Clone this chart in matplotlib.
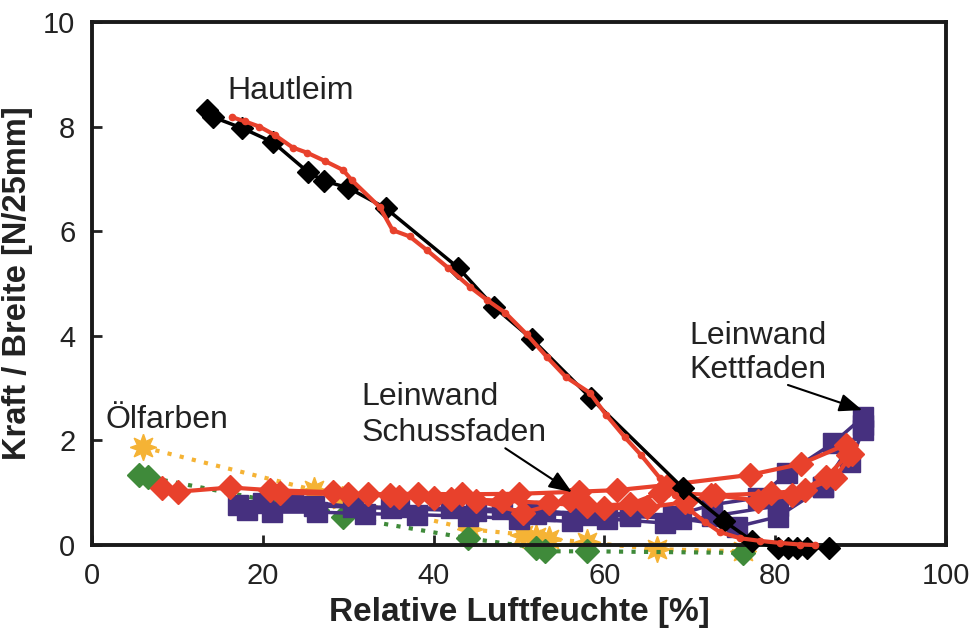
import matplotlib.pyplot as plt

plt.rcParams['font.family'] = ['Liberation Sans', 'DejaVu Sans']

# Hautleim (black diamonds)
haut_x = [13.5, 14.2, 17.6, 21.2, 25.3, 27.2, 30.0, 34.4, 42.9, 47.1, 51.5, 58.4,
          69.2, 74.0, 77.3, 80.3, 81.5, 82.6, 83.7, 86.3]
haut_y = [8.32, 8.18, 7.97, 7.70, 7.13, 6.96, 6.83, 6.44, 5.30, 4.55, 3.94, 2.81,
          1.09, 0.46, 0.08, -0.06, -0.05, -0.06, -0.05, -0.06]

# Hautleim (red line, small dots)
haut2_x = [16.4, 17.9, 19.6, 21.4, 23.5, 25.2, 27.3, 29.4, 30.4, 33.7, 35.2, 37.2,
           39.2, 41.7, 44.3, 46.3, 48.4, 50.9, 53.3, 55.5, 58.3, 60.2, 62.4, 64.3,
           66.5, 68.3, 70.0, 71.8, 73.5, 75.9, 78.2, 80.6, 82.9, 84.7]
haut2_y = [8.18, 8.10, 8.00, 7.84, 7.60, 7.50, 7.34, 7.17, 6.98, 6.46, 6.02, 5.90,
           5.64, 5.30, 4.93, 4.68, 4.44, 4.03, 3.59, 3.21, 2.91, 2.49, 2.06, 1.72,
           1.28, 0.96, 0.67, 0.44, 0.25, 0.13, 0.08, 0.04, 0.01, 0.0]

# Oelfarben
yel_x = [6.0, 26.0, 29.3, 44.3, 50.5, 52.0, 53.5, 58.0, 66.2, 76.2]
yel_y = [1.87, 1.05, 0.88, 0.30, 0.20, 0.16, 0.12, 0.05, -0.08, -0.12]
grn_x = [5.5, 6.5, 26.3, 29.4, 44.0, 52.0, 53.0, 58.0, 76.2]
grn_y = [1.34, 1.30, 0.67, 0.54, 0.13, -0.05, -0.12, -0.12, -0.15]

# Leinwand Schussfaden (red diamonds)
sch1_x = [8.2, 10.1, 16.2, 20.8, 28.2, 32.3, 38.2, 43.3, 50.0, 57.0, 61.5, 67.5, 77.0, 83.0, 88.3]
sch1_y = [1.09, 1.02, 1.10, 1.05, 1.01, 0.97, 0.98, 0.97, 0.98, 1.02, 1.05, 1.15, 1.34, 1.55, 1.92]
sch2_x = [22.0, 30.0, 34.9, 40.0, 45.0, 50.5, 56.0, 60.0, 65.0, 69.5, 73.0, 79.5, 83.5, 87.0, 89.0]
sch2_y = [1.00, 0.97, 0.95, 0.90, 0.85, 0.62, 0.86, 0.70, 0.72, 0.82, 0.95, 0.99, 1.05, 1.28, 1.75]
sch3_x = [36.0, 42.0, 48.0, 53.5, 58.0, 63.0, 66.5, 72.5, 78.0, 82.0, 86.0, 88.5]
sch3_y = [0.92, 0.88, 0.85, 0.80, 0.75, 0.78, 1.00, 0.96, 0.85, 0.95, 1.30, 1.72]

# Leinwand Kettfaden (purple squares)
ket1_x = [17.1, 21.1, 26.3, 32.0, 38.0, 44.0, 50.0, 56.2, 60.3, 67.1, 72.6, 80.3, 85.6, 90.3]
ket1_y = [0.77, 0.63, 0.63, 0.60, 0.58, 0.55, 0.50, 0.45, 0.50, 0.42, 0.55, 0.75, 1.10, 2.30]
ket2_x = [18.1, 23.5, 30.6, 36.0, 42.0, 48.0, 53.0, 57.0, 63.0, 68.0, 72.6, 78.0, 81.4, 86.8, 90.3]
ket2_y = [0.67, 0.86, 0.73, 0.72, 0.70, 0.68, 0.65, 0.60, 0.60, 0.55, 0.77, 0.90, 1.37, 1.95, 2.45]
ket3_x = [20.0, 26.0, 35.0, 45.0, 52.0, 58.0, 63.0, 69.0, 75.5, 80.3, 85.6, 88.8, 90.3]
ket3_y = [0.80, 0.75, 0.70, 0.65, 0.60, 0.58, 0.55, 0.50, 0.35, 0.54, 1.10, 1.59, 2.20]

red = '#E8412C'
purple = '#46307F'
yellow = '#F5B335'
green = '#3F8A3A'

fig = plt.figure(figsize=(9.77, 6.29), dpi=100)
ax = fig.add_axes([0.0942, 0.1335, 0.874, 0.8315])

ax.plot(yel_x, yel_y, linestyle=(0, (1, 2)), lw=3, color=yellow, marker=(8, 1, 0),
        markersize=19, clip_on=False, zorder=2)
ax.plot(grn_x, grn_y, linestyle=(0, (1, 2)), lw=3, color=green, marker='D',
        markersize=12, clip_on=False, zorder=2)

for kx, ky in [(ket1_x, ket1_y), (ket2_x, ket2_y), (ket3_x, ket3_y)]:
    ax.plot(kx, ky, '-', lw=2.5, color=purple, marker='s', markersize=14, zorder=3)

for sx, sy in [(sch1_x, sch1_y), (sch2_x, sch2_y), (sch3_x, sch3_y)]:
    ax.plot(sx, sy, '-', lw=3, color=red, marker='D', markersize=12, zorder=4)

ax.plot(haut_x, haut_y, '-', lw=2.5, color='black', marker='D', markersize=11,
        clip_on=False, zorder=5)
ax.plot(haut2_x, haut2_y, '-', lw=3, color=red, marker='o', markersize=4.5,
        clip_on=False, zorder=6)

ax.set_xlim(0, 100)
ax.set_ylim(0, 10)
ax.set_xticks([0, 20, 40, 60, 80, 100])
ax.set_yticks([0, 2, 4, 6, 8, 10])
ax.tick_params(direction='in', length=7, width=2, labelsize=21, pad=12,
               colors='#222222', labelcolor='#222222')
for s in ax.spines.values():
    s.set_linewidth(2.8)
    s.set_color('#1a1a1a')

ax.set_xlabel('Relative Luftfeuchte [%]', fontsize=24, fontweight='bold', labelpad=5, color='#222222')
ax.set_ylabel('Kraft / Breite [N/25mm]', fontsize=23.5, fontweight='bold', labelpad=7, color='#222222')

tsize = 23
ax.text(15.8, 8.53, 'Hautleim', fontsize=tsize, va='baseline', color='#222222')
ax.text(1.6, 2.24, 'Ölfarben', fontsize=tsize, va='baseline', color='#222222')
ax.text(31.6, 2.68, 'Leinwand', fontsize=tsize, va='baseline', color='#222222')
ax.text(31.6, 1.99, 'Schussfaden', fontsize=tsize, va='baseline', color='#222222')
ax.text(70.0, 3.85, 'Leinwand', fontsize=tsize, va='baseline', color='#222222')
ax.text(70.0, 3.19, 'Kettfaden', fontsize=tsize, va='baseline', color='#222222')

arrow = dict(arrowstyle='-|>,head_length=1.4,head_width=0.55', color='black', lw=1.5,
             shrinkA=0, shrinkB=0)
ax.annotate('', xy=(56.2, 1.01), xytext=(48.4, 1.85), arrowprops=arrow, zorder=7)
ax.annotate('', xy=(90.2, 2.58), xytext=(81.5, 3.06), arrowprops=arrow, zorder=7)

fig.savefig('out.png', dpi=100)
